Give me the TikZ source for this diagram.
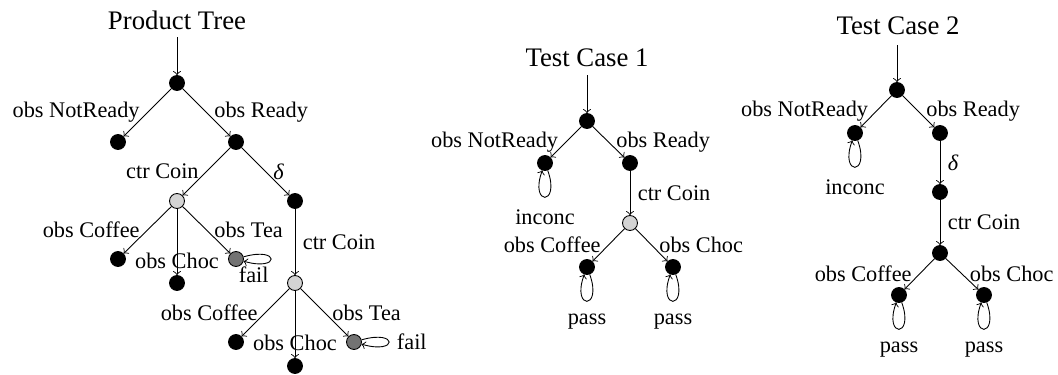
\documentclass[tikz,border=0pt]{standalone}
\usepackage{fontspec}
\setmainfont{Liberation Serif}
\begin{document}
\begin{tikzpicture}[x=0.4484pt,y=-0.4484pt,
  every node/.style={font=\fontsize{10}{12}\selectfont},
  st/.style={circle,draw,fill=black,minimum size=6.7pt,inner sep=0pt},
  lt/.style={st,fill=black!17},
  dk/.style={st,fill=black!55},
  tr/.style={->},
  ttl/.style={font=\fontsize{12}{14}\selectfont,anchor=base},
  every loop/.style={min distance=6mm,looseness=8},
  lpd/.style={out=-70,in=-110,loop},
  lpr/.style={out=16,in=-16,loop},
  verdict/.style={below,yshift=-2.2pt}]
\useasboundingbox (0,0) rectangle (1058,375);

% ---------------- Product Tree ----------------
\node[ttl] (pt) at (177,29) {Product Tree};
\coordinate (ps) at (177,37);
\node[st] (p0) at (177,83) {};
\node[st] (p1) at (118,142) {};
\node[st] (p2) at (236,142) {};
\node[lt] (p3) at (177,201) {};
\node[st] (p4) at (295,201) {};
\node[st] (p5) at (118,259) {};
\node[st] (p6) at (177,283) {};
\node[dk,label={[inner sep=0pt]-72:fail}] (p7) at (236,259) {};
\node[lt] (p8) at (295,283) {};
\node[st] (p9) at (236,342) {};
\node[st] (p10) at (295,366) {};
\node[dk] (p11) at (354,342) {};

\draw[tr] (ps) -- (p0);
\draw[tr] (p0) -- node[left]{obs NotReady} (p1);
\draw[tr] (p0) -- node[right]{obs Ready} (p2);
\draw[tr] (p2) -- node[left]{ctr Coin} (p3);
\draw[tr] (p2) -- node[right]{\itshape δ} (p4);
\draw[tr] (p3) -- node[left]{obs Coffee} (p5);
\draw[tr] (p3) -- node[pos=0.78]{obs Choc} (p6);
\draw[tr] (p3) -- node[right]{obs Tea} (p7);
\draw[tr] (p7) to[lpr] (p7);
\draw[tr] (p4) -- node[right]{ctr Coin} (p8);
\draw[tr] (p8) -- node[left]{obs Coffee} (p9);
\draw[tr] (p8) -- node[pos=0.78]{obs Choc} (p10);
\draw[tr] (p8) -- node[right]{obs Tea} (p11);
\draw[tr] (p11) to[lpr] node[right]{fail} (p11);

% ---------------- Test Case 1 ----------------
\node[ttl] (t1) at (587,66) {Test Case 1};
\coordinate (qs) at (587,75);
\node[st] (q0) at (587,121) {};
\node[st] (q1) at (545,163) {};
\node[st] (q2) at (630,163) {};
\node[lt] (q3) at (630,223) {};
\node[st] (q4) at (587,267) {};
\node[st] (q5) at (673,267) {};

\draw[tr] (qs) -- (q0);
\draw[tr] (q0) -- node[left]{obs NotReady} (q1);
\draw[tr] (q0) -- node[right]{obs Ready} (q2);
\draw[tr] (q1) to[lpd] node[verdict]{inconc} (q1);
\draw[tr] (q2) -- node[right]{ctr Coin} (q3);
\draw[tr] (q3) -- node[left]{obs Coffee} (q4);
\draw[tr] (q3) -- node[right]{obs Choc} (q5);
\draw[tr] (q4) to[lpd] node[verdict]{pass} (q4);
\draw[tr] (q5) to[lpd] node[verdict]{pass} (q5);

% ---------------- Test Case 2 ----------------
\node[ttl] (t2) at (898,35) {Test Case 2};
\coordinate (us) at (897,45);
\node[st] (u0) at (897,90) {};
\node[st] (u1) at (855,133) {};
\node[st] (u2) at (940,133) {};
\node[st] (u3) at (940,192) {};
\node[st] (u4) at (940,253) {};
\node[st] (u5) at (899,295) {};
\node[st] (u6) at (984,295) {};

\draw[tr] (us) -- (u0);
\draw[tr] (u0) -- node[left]{obs NotReady} (u1);
\draw[tr] (u0) -- node[right]{obs Ready} (u2);
\draw[tr] (u1) to[lpd] node[verdict]{inconc} (u1);
\draw[tr] (u2) -- node[right]{\itshape δ} (u3);
\draw[tr] (u3) -- node[right]{ctr Coin} (u4);
\draw[tr] (u4) -- node[left]{obs Coffee} (u5);
\draw[tr] (u4) -- node[right]{obs Choc} (u6);
\draw[tr] (u5) to[lpd] node[verdict]{pass} (u5);
\draw[tr] (u6) to[lpd] node[verdict]{pass} (u6);
\end{tikzpicture}
\end{document}
